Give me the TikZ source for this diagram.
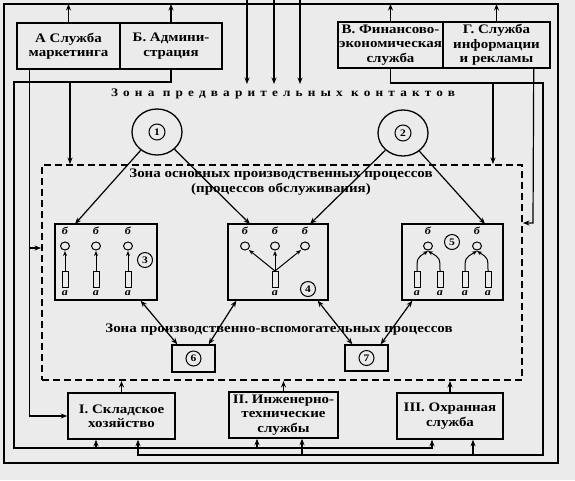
\documentclass[tikz,border=0pt]{standalone}
\usepackage{fontspec}
\setmainfont{Liberation Serif}[FakeStretch=1.15]
\usetikzlibrary{arrows.meta,calc,shapes.geometric}
\begin{document}
\begin{tikzpicture}[x=1pt,y=-1pt,
  unit/.style={draw, line width=1.4pt, minimum height=46pt, align=center, inner sep=0.5pt,
    font=\bfseries\fontsize{13}{14.3}\selectfont},
  conn/.style={line width=1.2pt},
  arr/.style={conn, -{Stealth[length=6.5pt,width=5pt]}},
  dbl/.style={conn, {Stealth[length=6.5pt,width=5pt]}-{Stealth[length=6.5pt,width=5pt]}},
  sarr/.style={line width=1pt, -{Stealth[length=5pt,width=4pt]}},
  small/.style={line width=1pt},
  zone/.style={draw, dash pattern=on 7pt off 4pt, line width=1.9pt},
  proc/.style={draw, line width=1.3pt},
  num/.style={circle, draw, line width=1pt, inner sep=0.5pt, minimum size=15pt, font=\bfseries\fontsize{10}{10}\selectfont},
  lbl/.style={inner sep=0pt, font=\itshape\bfseries\fontsize{10.5}{10.5}\selectfont},
  ztext/.style={align=center, font=\bfseries\fontsize{13}{15}\selectfont}
]
\fill[black!8] (0,0) rectangle (575,480);
\useasboundingbox (0,0) rectangle (575,480);

% outer loop
\coordinate (LT) at (4,4);
\coordinate (RB) at (558,463);
\draw[conn] (LT) rectangle (RB);

% top units
\node[unit, minimum width=103pt] (A) at (68.5,46) {А Служба\\маркетинга};
\node[unit, minimum width=102pt] (B) at (171,46) {Б. Админи-\\страция};
\node[unit, minimum width=105pt] (V) at (390.5,45) {В. Финансово-\\экономическая\\служба};
\node[unit, minimum width=107pt] (G) at (496.5,45) {Г. Служба\\информации\\и рекламы};

% bottom units
\node[unit, minimum width=107pt] (S1) at (121.5,416) {I. Складское\\хозяйство};
\node[unit, minimum width=109pt] (S2) at (283.5,415) {II. Инженерно-\\технические\\службы};
\node[unit, minimum width=106pt] (S3) at (450,416) {III. Охранная\\служба};

% zone of main processes
\node[zone, minimum width=480pt, minimum height=215pt] (Z) at (282,272.5) {};

\node[ztext, font=\bfseries\fontsize{11.5}{13}\selectfont\addfontfeature{LetterSpace=45}] (zt1) at (283,94) {Зона предварительных контактов};
\node[ztext] (zt2) at (281,182) {Зона основных производственных процессов\\(процессов обслуживания)};
\node[ztext] (zt3) at (279,330) {Зона производственно-вспомогательных процессов};

% circles 1 and 2
\node[draw, ellipse, line width=1.3pt, minimum width=50pt, minimum height=46pt] (C1) at (157,132) {};
\node[num, minimum size=16pt] (n1) at (157,132) {1};
\node[draw, ellipse, line width=1.3pt, minimum width=50pt, minimum height=46pt] (C2) at (403,133) {};
\node[num, minimum size=16pt] (n2) at (403,133) {2};

% process boxes
\node[proc, minimum width=102pt, minimum height=76pt] (P3) at (106,262) {};
\node[proc, minimum width=100pt, minimum height=76pt] (P4) at (278,262) {};
\node[proc, minimum width=101pt, minimum height=76pt] (P5) at (452.5,262) {};
\node[proc, minimum width=43pt, minimum height=27pt] (B6) at (193.5,358.5) {};
\node[num] (n6) at (193.5,358.5) {6};
\node[proc, minimum width=43pt, minimum height=26pt] (B7) at (366.5,358) {};
\node[num] (n7) at (366.5,358) {7};

% arrows up into outer loop
\draw[arr] (A.north) -- (A.north |- LT);
\draw[arr] (B.north) -- (B.north |- LT);
\draw[arr] (V.north) -- (V.north |- LT);
\draw[arr] (G.north) -- (G.north |- LT);

% incoming arrows from outside
\foreach \x in {247,274,300} {
  \coordinate (e\x) at (\x,0);
  \coordinate (f\x) at (\x,84);
  \draw[arr] (e\x) -- (f\x);
}

% bus of B (administration)
\coordinate (hB) at (14,82);
\coordinate (hBb) at (14,448);
\coordinate (s3a) at ([xshift=-18pt]S3.south);
\coordinate (s1a) at ([xshift=-25.5pt]S1.south);
\coordinate (s2a) at ([xshift=-26.5pt]S2.south);
\coordinate (bz) at (70,82);
\draw[arr] (B.south) -- (B.south |- hB) -- (hB) -- (hBb) -- (hBb -| s3a) -- (s3a);
\draw[arr] (bz) -- (bz |- Z.north);
\draw[arr] (s1a |- hBb) -- (s1a);
\draw[arr] (s2a |- hBb) -- (s2a);

% bus of V (finance)
\coordinate (hV) at (543,83);
\coordinate (hVb) at (543,455);
\coordinate (s1b) at ([xshift=16.5pt]S1.south);
\coordinate (s2b) at ([xshift=18.5pt]S2.south);
\coordinate (s3b) at ([xshift=23pt]S3.south);
\coordinate (vz) at (493,83);
\draw[arr] (V.south) -- (V.south |- hV) -- (hV) -- (hVb) -- (hVb -| s1b) -- (s1b);
\draw[arr] (vz) -- (vz |- Z.north);
\draw[arr] (s2b |- hVb) -- (s2b);
\draw[arr] (s3b |- hVb) -- (s3b);

% line of A (marketing)
\coordinate (a1) at ([xshift=13pt]A.south west);
\coordinate (az) at (30,248);
\draw[arr] (a1) -- (a1 |- S1.west) -- (S1.west);
\draw[arr] (az) -- (az -| Z.west);

% line of G (information)
\coordinate (g1) at ([xshift=-17pt]G.south east);
\coordinate (gz) at (533,223);
\draw[arr] (g1) -- (gz) -- (gz -| Z.east);

% bottom units into zone
\draw[arr] (S1.north) -- (S1.north |- Z.south);
\draw[arr] (S2.north) -- (S2.north |- Z.south);
\draw[arr] (S3.north) -- (S3.north |- Z.south);

% circles to process boxes
\coordinate (t3) at (75,224);
\coordinate (t4a) at (250,224);
\coordinate (t4b) at (310,224);
\coordinate (t5) at (485,224);
\draw[arr] (C1) -- (t3);
\draw[arr] (C1) -- (t4a);
\draw[arr] (C2) -- (t4b);
\draw[arr] (C2) -- (t5);

% double arrows to auxiliary boxes
\draw[dbl] ([xshift=-17pt]P3.south east) -- ([xshift=6pt]B6.north west);
\draw[dbl] ([xshift=9pt]P4.south west) -- ([xshift=-7pt]B6.north east);
\draw[dbl] ([xshift=-11pt]P4.south east) -- ([xshift=8pt]B7.north west);
\draw[dbl] ([xshift=11pt]P5.south west) -- ([xshift=-8pt]B7.north east);

% box 3 content
\foreach \x in {65,96,128} {
  \node[lbl] (b3\x) at (\x,231) {б};
  \draw[small] (\x,246) ellipse [x radius=4.5pt, y radius=4pt];
  \draw[small] (\x-3,271) rectangle (\x+3,287);
  \draw[sarr] (\x,271) -- (\x,251);
  \node[lbl] (a3\x) at (\x,293) {а};
}
\node[num] (n3) at (145,260) {3};

% box 4 content
\foreach \x in {245,275,305} {
  \node[lbl] (b4\x) at (\x,231) {б};
  \draw[small] (\x,246) ellipse [x radius=4.5pt, y radius=4pt];
}
\draw[small] (272,271) rectangle (278,287);
\draw[sarr] (275,271) -- (249,250);
\draw[sarr] (275,271) -- (275,251);
\draw[sarr] (275,271) -- (301,250);
\node[lbl] (a4) at (275,293) {а};
\node[num] (n4) at (308,289) {4};

% box 5 content
\foreach \x in {428,477} {
  \node[lbl] (b5\x) at (\x,231) {б};
  \draw[small] (\x,246) ellipse [x radius=4.5pt, y radius=4pt];
}
\foreach \x in {417,440,465,488} {
  \draw[small] (\x-3,271) rectangle (\x+3,287);
  \node[lbl] (a5\x) at (\x,293) {а};
}
\draw[sarr] (417,271) .. controls (417,258) .. (428,251);
\draw[sarr] (440,271) .. controls (440,258) .. (428,251);
\draw[sarr] (465,271) .. controls (465,258) .. (477,251);
\draw[sarr] (488,271) .. controls (488,258) .. (477,251);
\node[num] (n5) at (452,242) {5};
\end{tikzpicture}
\end{document}
